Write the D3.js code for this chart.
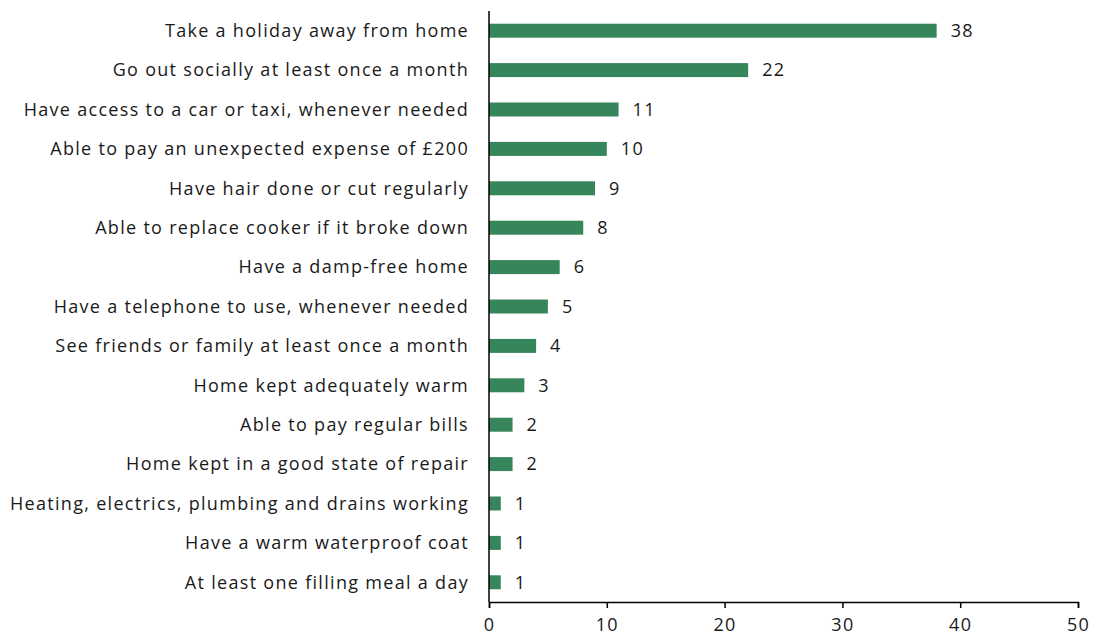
<!DOCTYPE html>
<html><head><meta charset="utf-8">
<script src="https://cdn.jsdelivr.net/npm/d3@7"></script>
<style>body{margin:0;background:#fff;} text{font-family:"Open Sans",sans-serif;fill:#1a1a1a;}</style>
</head><body><svg id="c" width="1094" height="637"></svg>
<script>
const categories = ["Take a holiday away from home","Go out socially at least once a month","Have access to a car or taxi, whenever needed","Able to pay an unexpected expense of £200","Have hair done or cut regularly","Able to replace cooker if it broke down","Have a damp-free home","Have a telephone to use, whenever needed","See friends or family at least once a month","Home kept adequately warm","Able to pay regular bills","Home kept in a good state of repair","Heating, electrics, plumbing and drains working","Have a warm waterproof coat","At least one filling meal a day"];
const values = [38,22,11,10,9,8,6,5,4,3,2,2,1,1,1];
const xTicks = [0,10,20,30,40,50];

const svg = d3.select("#c");
const x = d3.scaleLinear().domain([0,50]).range([489,1078]);
const y = d3.scaleBand().domain(categories).range([11,602]).paddingInner(0.645).paddingOuter(0.3225);
const color = "#37855a";

svg.selectAll("rect.bar").data(values).join("rect")
  .attr("x", x(0)).attr("y",(d,i)=>y(categories[i]))
  .attr("width", d=>x(d)-x(0)).attr("height", y.bandwidth()).attr("fill", color);

svg.selectAll("text.val").data(values).join("text")
  .attr("x", d=>x(d)+14).attr("y",(d,i)=>y(categories[i])+y.bandwidth()/2)
  .attr("dy","0.35em").attr("font-size",18).attr("letter-spacing","1.3px").text(d=>d);

svg.selectAll("text.cat").data(categories).join("text")
  .attr("x", 469).attr("y", d=>y(d)+y.bandwidth()/2).attr("dy","0.35em")
  .attr("text-anchor","end").attr("font-size",18).attr("letter-spacing","1.3px").text(d=>d);

const xa = svg.append("g").attr("transform","translate(0,602)")
  .call(d3.axisBottom(x).tickValues(xTicks).tickSize(6).tickPadding(10).tickFormat(d3.format("d")));
xa.select(".domain").attr("stroke","#000").attr("stroke-width",1.5);
xa.selectAll(".tick line").attr("stroke","#000").attr("stroke-width",1.5);
xa.selectAll("text").attr("font-size",18).attr("font-family","Open Sans").attr("fill","#1a1a1a").attr("letter-spacing","1.3px");

svg.append("line").attr("x1",x(0)).attr("x2",x(0)).attr("y1",11).attr("y2",602).attr("stroke","#000").attr("stroke-width",1.5);
</script></body></html>
